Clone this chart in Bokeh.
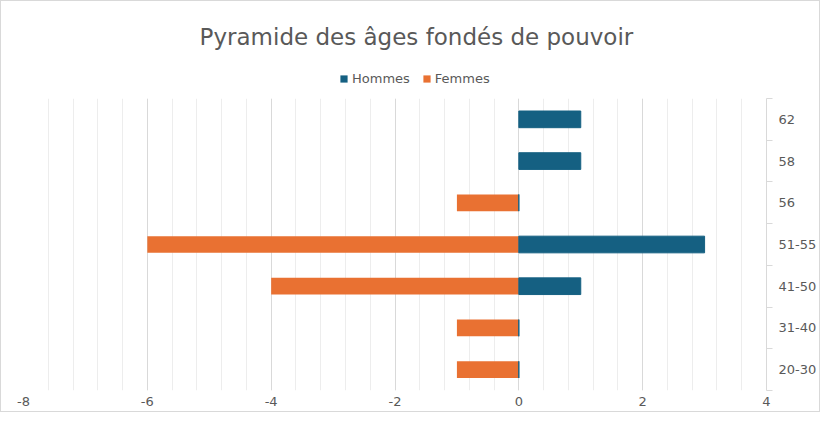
from bokeh.plotting import figure
from bokeh.models import Range1d, FixedTicker, Legend, LegendItem, LinearAxis, Label
from bokeh.layouts import column
from bokeh.embed import file_html
from bokeh.resources import INLINE

# Data (bottom to top, as in the chart)
categories = ["20-30", "31-40", "41-50", "51-55", "56", "58", "62"]
hommes = [0, 0, 1, 3, 0, 1, 1]
femmes = [-1, -1, -4, -6, -1, 0, 0]
x_ticks = [-8, -6, -4, -2, 0, 2, 4]
series_names = ["Hommes", "Femmes"]

title_text = "Pyramide des âges fondés de pouvoir"
FONT = "DejaVu Sans"
GREY_TXT = "#595959"
C_H = "#156082"
C_F = "#E97132"

ypos = [i + 0.5 for i in range(len(categories))]
bounds = [i for i in range(len(categories) + 1)]
minor_x = [x_ticks[0] + 0.4 * k for k in range(int((x_ticks[-1] - x_ticks[0]) / 0.4) + 1)]

W = 818
HH = 96          # header height (title + legend)
H1 = 410 - HH    # main chart height
BL, BR, BT, BB = 22, 51, 1, 21
FW = W - BL - BR

# ---------- header: title + legend (frame aligned with main chart) ----------
p0 = figure(width=W, height=HH, output_backend="svg", toolbar_location=None,
            x_range=Range1d(0, FW), y_range=Range1d(0, HH),
            min_border_left=BL, min_border_right=BR, min_border_top=0, min_border_bottom=0,
            x_axis_location=None, y_axis_location=None)
p0.outline_line_color = None
p0.grid.grid_line_color = None
p0.background_fill_color = "white"
p0.border_fill_color = "white"

p0.add_layout(Label(x=416 - BL, y=HH - 35, text=title_text, text_align="center",
                    text_baseline="middle", text_font=FONT, text_font_size="23px",
                    text_color=GREY_TXT))

# legend swatches (kept off-view; only their styles feed the legend)
dh = p0.hbar(y=[-HH], left=[0], right=[1], height=1, fill_color=C_H, line_color=None)
df = p0.hbar(y=[-HH], left=[0], right=[1], height=1, fill_color=C_F, line_color=None)
legend = Legend(items=[LegendItem(label=series_names[0], renderers=[dh]),
                       LegendItem(label=series_names[1], renderers=[df])],
                orientation="horizontal", location=(338 - BL, 11),
                label_text_font=FONT, label_text_font_size="13px",
                label_text_color=GREY_TXT, glyph_width=9, glyph_height=9,
                label_standoff=4, spacing=12, padding=4, margin=0,
                border_line_color=None, background_fill_alpha=0)
p0.add_layout(legend)

# ---------- main chart ----------
p = figure(width=W, height=H1, output_backend="svg", toolbar_location=None,
           x_range=Range1d(x_ticks[0], x_ticks[-1]), y_range=Range1d(0, len(categories)),
           y_axis_location=None, min_border_left=BL, min_border_right=BR,
           min_border_top=BT, min_border_bottom=BB)
p.outline_line_color = None
p.background_fill_color = "white"
p.border_fill_color = "white"

p.hbar(y=ypos, left=femmes, right=[0] * len(femmes), height=0.4,
       fill_color=C_F, line_color=None)
p.hbar(y=ypos, left=[0] * len(hommes), right=hommes, height=0.4,
       fill_color=C_H, line_color=C_H, line_width=1)

xa = p.xaxis[0]
xa.ticker = FixedTicker(ticks=x_ticks, minor_ticks=minor_x)
xa.major_label_overrides = {t: str(t) for t in x_ticks}
xa.axis_line_color = None
xa.major_tick_line_color = None
xa.minor_tick_line_color = None
xa.major_tick_out = 0
xa.major_tick_in = 0
xa.minor_tick_out = 0
xa.minor_tick_in = 0
xa.major_label_text_font = FONT
xa.major_label_text_font_size = "13px"
xa.major_label_text_color = GREY_TXT
xa.major_label_standoff = 6

p.xgrid.ticker = FixedTicker(ticks=x_ticks, minor_ticks=minor_x)
p.xgrid.grid_line_color = "#d9d9d9"
p.xgrid.grid_line_width = 1
p.xgrid.minor_grid_line_color = "#ededed"
p.ygrid.grid_line_color = None

ya = LinearAxis(ticker=FixedTicker(ticks=ypos, minor_ticks=bounds))
ya.major_label_overrides = {y: c for y, c in zip(ypos, categories)}
ya.axis_line_color = "#d9d9d9"
ya.major_tick_line_color = None
ya.major_tick_out = 0
ya.major_tick_in = 0
ya.minor_tick_line_color = "#d9d9d9"
ya.minor_tick_out = 6
ya.minor_tick_in = 0
ya.major_label_standoff = 6
ya.major_label_text_font = FONT
ya.major_label_text_font_size = "13px"
ya.major_label_text_color = GREY_TXT
p.add_layout(ya, "right")

layout = column(p0, p, spacing=0, styles={"border": "1px solid #d9d9d9"})
open("out.html", "w").write(file_html(layout, INLINE))
